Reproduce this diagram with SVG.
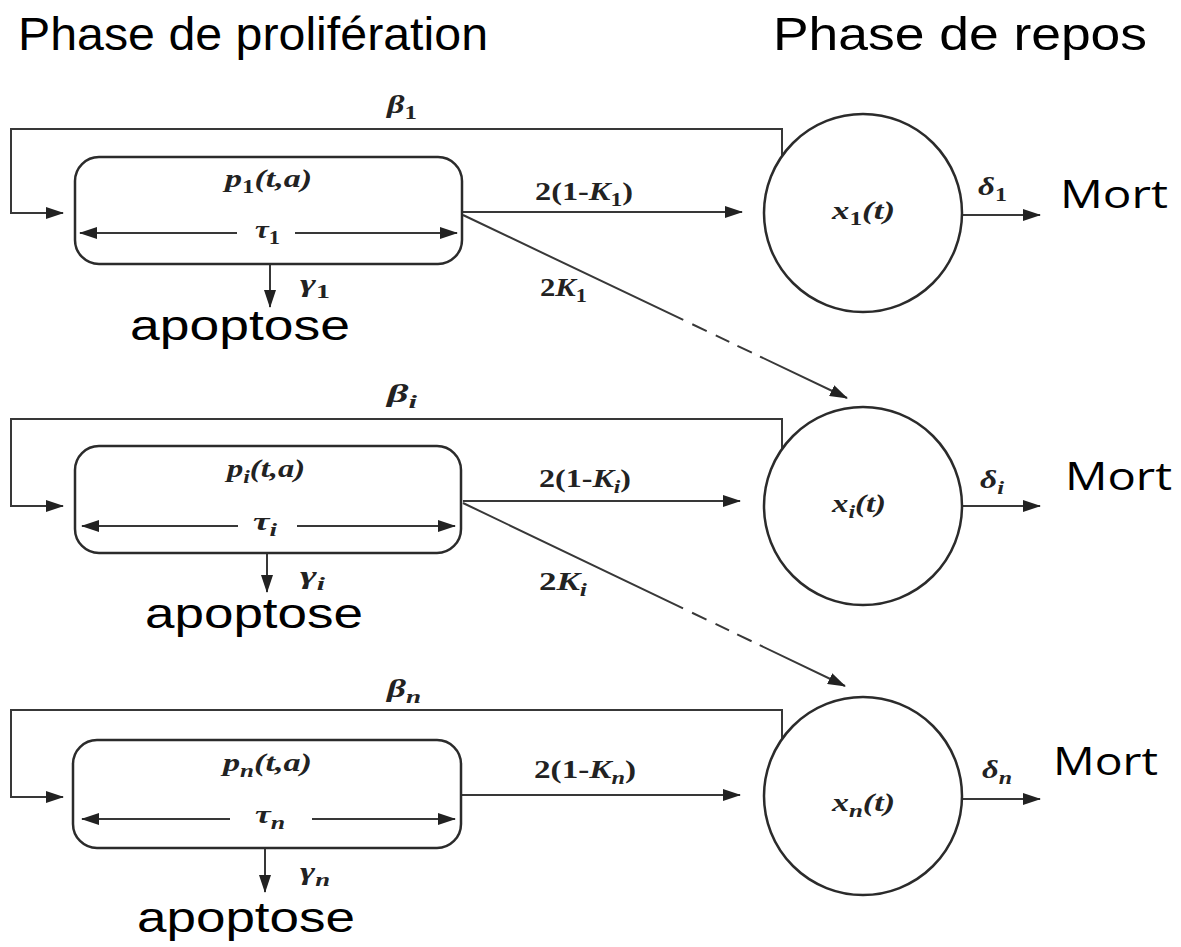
<svg xmlns="http://www.w3.org/2000/svg" width="1181" height="947" viewBox="0 0 1181 947">
<style>
.ln{fill:none;stroke:#383838;stroke-width:2}
.box{fill:#fff;stroke:#2b2b2b;stroke-width:2.5}
.cir{fill:#fff;stroke:#2b2b2b;stroke-width:2.5}
.m{font-family:'Liberation Serif','Times New Roman',serif;font-weight:bold;font-style:italic;font-size:26px;fill:#222}
.up{font-style:normal}
.sub{font-size:19px}
.big{font-family:'Liberation Sans',Arial,sans-serif;fill:#000}
.mo{font-family:'Open Sans','Liberation Sans',sans-serif;fill:#000}
.hdr{font-size:46px}
.apo{font-size:42px}
.mort{font-size:39px}
.dash{stroke-dasharray:244 10 16 10 15 9 16 9 300}
</style>
<defs>
<marker id="ah" markerUnits="userSpaceOnUse" markerWidth="18" markerHeight="12" refX="17" refY="6" orient="auto-start-reverse">
<path d="M0,0 L18,6 L0,12 z" fill="#222"/>
</marker>
</defs>
<rect width="1181" height="947" fill="#fff"/>

<!-- column headings -->
<text class="big hdr" x="18" y="50" textLength="470" lengthAdjust="spacingAndGlyphs">Phase de prolifération</text>
<text class="big hdr" x="773" y="50" textLength="374" lengthAdjust="spacingAndGlyphs">Phase de repos</text>

<!-- connectors -->
<g id="connectors" marker-end="url(#ah)">
<!-- row 1 -->
<path class="ln" d="M782,156 V129 H11 V213 H63"/>
<path class="ln" d="M270,264 V307"/>
<path class="ln" d="M463,212 H742"/>
<path class="ln dash" d="M463,215 L847,398"/>
<path class="ln" d="M962,215 H1040"/>
<!-- row i -->
<path class="ln" d="M782,449 V419 H11 V506 H63"/>
<path class="ln" d="M267,553 V592"/>
<path class="ln" d="M463,501 H740"/>
<path class="ln dash" d="M463,503 L845,686"/>
<path class="ln" d="M962,506 H1040"/>
<!-- row n -->
<path class="ln" d="M782,739 V710 H11 V797 H63"/>
<path class="ln" d="M265,848 V892"/>
<path class="ln" d="M461,795 H740"/>
<path class="ln" d="M962,799 H1040"/>
</g>

<!-- proliferating compartments -->
<g id="p1">
<rect class="box" x="75" y="157" width="387" height="107" rx="24"/>
<path class="ln" d="M80,233 H237" marker-start="url(#ah)"/>
<path class="ln" d="M295,233 H457" marker-end="url(#ah)"/>
<text class="m" x="225" y="187" textLength="87" lengthAdjust="spacingAndGlyphs">p<tspan class="up sub" dy="6">1</tspan><tspan dy="-6">(t,a)</tspan></text>
<text class="m" x="255" y="238" textLength="25" lengthAdjust="spacingAndGlyphs">τ<tspan class="up sub" dy="6">1</tspan></text>
</g>
<g id="pi">
<rect class="box" x="75" y="446" width="386" height="107" rx="24"/>
<path class="ln" d="M82,526 H238" marker-start="url(#ah)"/>
<path class="ln" d="M297,526 H455" marker-end="url(#ah)"/>
<text class="m" x="227" y="477" textLength="78" lengthAdjust="spacingAndGlyphs">p<tspan class="sub" dy="6">i</tspan><tspan dy="-6">(t,a)</tspan></text>
<text class="m" x="253" y="530" textLength="24" lengthAdjust="spacingAndGlyphs">τ<tspan class="sub" dy="6">i</tspan></text>
</g>
<g id="pn">
<rect class="box" x="73" y="740" width="388" height="108" rx="24"/>
<path class="ln" d="M82,819 H230" marker-start="url(#ah)"/>
<path class="ln" d="M312,819 H455" marker-end="url(#ah)"/>
<text class="m" x="223" y="771" textLength="89" lengthAdjust="spacingAndGlyphs">p<tspan class="sub" dy="6">n</tspan><tspan dy="-6">(t,a)</tspan></text>
<text class="m" x="255" y="823" textLength="30" lengthAdjust="spacingAndGlyphs">τ<tspan class="sub" dy="6">n</tspan></text>
</g>

<!-- resting compartments -->
<g id="x1">
<circle class="cir" cx="863" cy="213" r="99"/>
<text class="m" x="832" y="219" textLength="63" lengthAdjust="spacingAndGlyphs">x<tspan class="up sub" dy="6">1</tspan><tspan dy="-6">(t)</tspan></text>
</g>
<g id="xi">
<circle class="cir" cx="863" cy="506" r="99"/>
<text class="m" x="832" y="512" textLength="54" lengthAdjust="spacingAndGlyphs">x<tspan class="sub" dy="6">i</tspan><tspan dy="-6">(t)</tspan></text>
</g>
<g id="xn">
<circle class="cir" cx="863" cy="796" r="99"/>
<text class="m" x="832" y="811" textLength="63" lengthAdjust="spacingAndGlyphs">x<tspan class="sub" dy="6">n</tspan><tspan dy="-6">(t)</tspan></text>
</g>

<!-- rate labels -->
<g id="labels">
<text class="m" x="387" y="113" textLength="30" lengthAdjust="spacingAndGlyphs">β<tspan class="up sub" dy="6">1</tspan></text>
<text class="m" x="300" y="292" textLength="30" lengthAdjust="spacingAndGlyphs">γ<tspan class="up sub" dy="6">1</tspan></text>
<text class="m" x="535" y="200" textLength="98" lengthAdjust="spacingAndGlyphs"><tspan class="up">2(1-</tspan>K<tspan class="up sub" dy="6">1</tspan><tspan class="up" dy="-6">)</tspan></text>
<text class="m" x="540" y="296" textLength="47" lengthAdjust="spacingAndGlyphs"><tspan class="up">2</tspan>K<tspan class="up sub" dy="6">1</tspan></text>
<text class="m" x="978" y="195" textLength="29" lengthAdjust="spacingAndGlyphs">δ<tspan class="up sub" dy="6">1</tspan></text>

<text class="m" x="387" y="402" textLength="30" lengthAdjust="spacingAndGlyphs">β<tspan class="sub" dy="6">i</tspan></text>
<text class="m" x="300" y="584" textLength="25" lengthAdjust="spacingAndGlyphs">γ<tspan class="sub" dy="6">i</tspan></text>
<text class="m" x="539" y="487" textLength="92" lengthAdjust="spacingAndGlyphs"><tspan class="up">2(1-</tspan>K<tspan class="sub" dy="6">i</tspan><tspan class="up" dy="-6">)</tspan></text>
<text class="m" x="539" y="590" textLength="48" lengthAdjust="spacingAndGlyphs"><tspan class="up">2</tspan>K<tspan class="sub" dy="6">i</tspan></text>
<text class="m" x="980" y="488" textLength="24" lengthAdjust="spacingAndGlyphs">δ<tspan class="sub" dy="6">i</tspan></text>

<text class="m" x="387" y="697" textLength="34" lengthAdjust="spacingAndGlyphs">β<tspan class="sub" dy="6">n</tspan></text>
<text class="m" x="300" y="880" textLength="30" lengthAdjust="spacingAndGlyphs">γ<tspan class="sub" dy="6">n</tspan></text>
<text class="m" x="534" y="778" textLength="102" lengthAdjust="spacingAndGlyphs"><tspan class="up">2(1-</tspan>K<tspan class="sub" dy="6">n</tspan><tspan class="up" dy="-6">)</tspan></text>
<text class="m" x="982" y="778" textLength="30" lengthAdjust="spacingAndGlyphs">δ<tspan class="sub" dy="6">n</tspan></text>
</g>

<!-- outcomes -->
<g id="outcomes">
<text class="big apo" x="130" y="340" textLength="220" lengthAdjust="spacingAndGlyphs">apoptose</text>
<text class="big apo" x="145" y="628" textLength="218" lengthAdjust="spacingAndGlyphs">apoptose</text>
<text class="big apo" x="137" y="932" textLength="218" lengthAdjust="spacingAndGlyphs">apoptose</text>
<text class="mo mort" x="1060" y="208" textLength="108" lengthAdjust="spacingAndGlyphs">Mort</text>
<text class="mo mort" x="1065" y="490" textLength="107" lengthAdjust="spacingAndGlyphs">Mort</text>
<text class="mo mort" x="1053" y="775" textLength="105" lengthAdjust="spacingAndGlyphs">Mort</text>
</g>
</svg>
